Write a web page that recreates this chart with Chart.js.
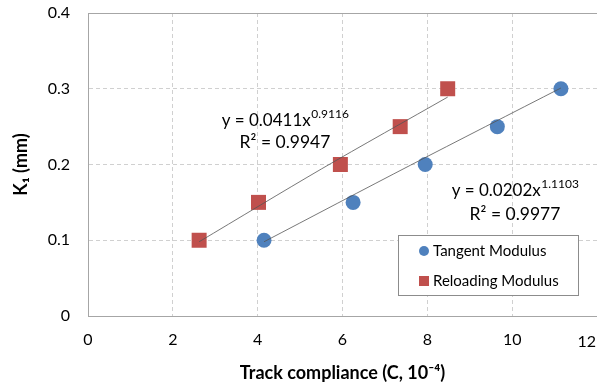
<!DOCTYPE html>
<html><head><meta charset="utf-8">
<script src="https://cdn.jsdelivr.net/npm/chart.js@4/dist/chart.umd.min.js"></script>
<style>html,body{margin:0;padding:0;background:#fff}#wrap{width:597px;height:388px}</style>
</head><body><div id="wrap"><canvas id="c" width="597" height="388"></canvas></div>
<script>
const tangentX = [4.15, 6.25, 7.95, 9.65, 11.15];
const tangentY = [0.10, 0.15, 0.20, 0.25, 0.30];
const reloadX = [2.62, 4.02, 5.95, 7.36, 8.48];
const reloadY = [0.10, 0.15, 0.20, 0.25, 0.30];
const tangentTrendX = [4.15, 7.6, 11.15];
const tangentTrendY = [0.098, 0.199, 0.301];
const reloadTrendX = [2.62, 5.5, 8.48];
const reloadTrendY = [0.098, 0.194, 0.289];
const xTicks = [0, 2, 4, 6, 8, 10, 12];
const yTicks = [0, 0.1, 0.2, 0.3, 0.4];
const seriesNames = ['Tangent Modulus', 'Reloading Modulus'];
const eq1 = ['y = 0.0411x', '0.9116', 'R² = 0.9947'];
const eq2 = ['y = 0.0202x', '1.1103', 'R² = 0.9977'];

const FONT = 'Lato, "Open Sans", sans-serif';
const BLUE = '#4f81bd', RED = '#c0504d';
const pts = (xs, ys) => xs.map((x, i) => ({x, y: ys[i]}));
const lastX = xTicks[xTicks.length - 1];

const annot = {
  id: 'annot',
  afterDatasetsDraw(chart) {
    const ctx = chart.ctx;
    const a = chart.chartArea;
    ctx.save();
    ctx.strokeStyle = '#a6a6a6';
    ctx.lineWidth = 1;
    ctx.strokeRect(Math.round(a.left) + 0.5, Math.round(a.top) + 0.5, Math.round(a.right - a.left), Math.round(a.bottom - a.top));
    // last x tick label, kept inside the canvas
    ctx.fillStyle = '#000';
    ctx.font = '16px ' + FONT;
    ctx.textAlign = 'right';
    ctx.textBaseline = 'top';
    const xl = chart.scales.x.getPixelForValue(lastX);
    ctx.fillText(String(lastX), Math.min(xl + 9, chart.width - 1), a.bottom + 18);
    ctx.textBaseline = 'alphabetic';
    function eq(e, cx, by1, by2) {
      ctx.font = '17px ' + FONT;
      const w1 = ctx.measureText(e[0]).width;
      ctx.font = '12px ' + FONT;
      const w2 = ctx.measureText(e[1]).width;
      const start = cx - (w1 + w2) / 2;
      ctx.font = '17px ' + FONT;
      ctx.textAlign = 'left';
      ctx.fillText(e[0], start, by1);
      ctx.font = '12px ' + FONT;
      ctx.fillText(e[1], start + w1 + 0.5, by1 - 8);
      ctx.font = '17.5px ' + FONT;
      ctx.textAlign = 'center';
      ctx.fillText(e[2], cx, by2);
    }
    eq(eq1, 285, 126, 148);
    eq(eq2, 515, 196, 220);
    // legend
    const lx = 398, ly = 235, lw = 180, lh = 60;
    ctx.fillStyle = '#fff';
    ctx.fillRect(lx, ly, lw, lh);
    ctx.strokeStyle = '#8c8c8c';
    ctx.lineWidth = 1;
    ctx.strokeRect(lx + 0.5, ly + 0.5, lw, lh);
    ctx.fillStyle = BLUE;
    ctx.beginPath(); ctx.arc(424, 251, 5, 0, Math.PI * 2); ctx.fill();
    ctx.fillStyle = RED;
    ctx.fillRect(419, 276, 10, 10);
    ctx.fillStyle = '#000';
    ctx.font = '15px ' + FONT;
    ctx.textAlign = 'left';
    ctx.textBaseline = 'middle';
    ctx.fillText(seriesNames[0], 433, 251);
    ctx.fillText(seriesNames[1], 433, 281);
    ctx.restore();
  }
};

new Chart(document.getElementById('c'), {
  type: 'scatter',
  data: {
    datasets: [
      {label: 'tt', data: pts(tangentTrendX, tangentTrendY), showLine: true, borderColor: '#555', borderWidth: 0.8, pointRadius: 0, fill: false, tension: 0.3},
      {label: 'rt', data: pts(reloadTrendX, reloadTrendY), showLine: true, borderColor: '#555', borderWidth: 0.8, pointRadius: 0, fill: false, tension: 0.3},
      {label: seriesNames[0], data: pts(tangentX, tangentY), pointStyle: 'circle', pointRadius: 7.5, backgroundColor: BLUE, borderColor: BLUE, borderWidth: 0},
      {label: seriesNames[1], data: pts(reloadX, reloadY), pointStyle: 'rect', pointRadius: 10.6, backgroundColor: RED, borderColor: RED, borderWidth: 0}
    ]
  },
  options: {
    responsive: false,
    animation: false,
    layout: {autoPadding: false, padding: {left: 0, right: -2, top: 13, bottom: 0}},
    plugins: {legend: {display: false}, tooltip: {enabled: false}},
    scales: {
      x: {
        type: 'linear', min: 0, max: 12,
        afterBuildTicks(s) { s.ticks = xTicks.map(v => ({value: v})); },
        afterFit(s) { s.height = 72; s.paddingLeft = 0; s.paddingRight = 0; },
        ticks: {font: {family: FONT, size: 16}, color: '#000', padding: 14, callback: v => (v === lastX ? '' : String(v))},
        grid: {color: '#d0d0d0', drawTicks: false, tickLength: 0},
        border: {display: true, color: '#8c8c8c', width: 1, dash: [4, 3]},
        title: {display: true, text: 'Track compliance (C, 10⁻⁴)', font: {family: FONT, size: 18, weight: 'bold'}, color: '#000', padding: {top: 4}}
      },
      y: {
        type: 'linear', min: 0, max: 0.4,
        afterBuildTicks(s) { s.ticks = yTicks.map(v => ({value: v})); },
        afterFit(s) { s.width = 88; s.paddingTop = 0; s.paddingBottom = 0; },
        ticks: {font: {family: FONT, size: 16}, color: '#000', padding: 18, callback: v => String(v)},
        grid: {color: '#d0d0d0', drawTicks: false},
        border: {display: true, color: '#8c8c8c', width: 1, dash: [4, 3]},
        title: {display: true, text: 'K₁ (mm)', font: {family: FONT, size: 18, weight: 'bold'}, color: '#000', padding: {top: 10, bottom: 4}}
      }
    }
  },
  plugins: [annot]
});
</script></body></html>
